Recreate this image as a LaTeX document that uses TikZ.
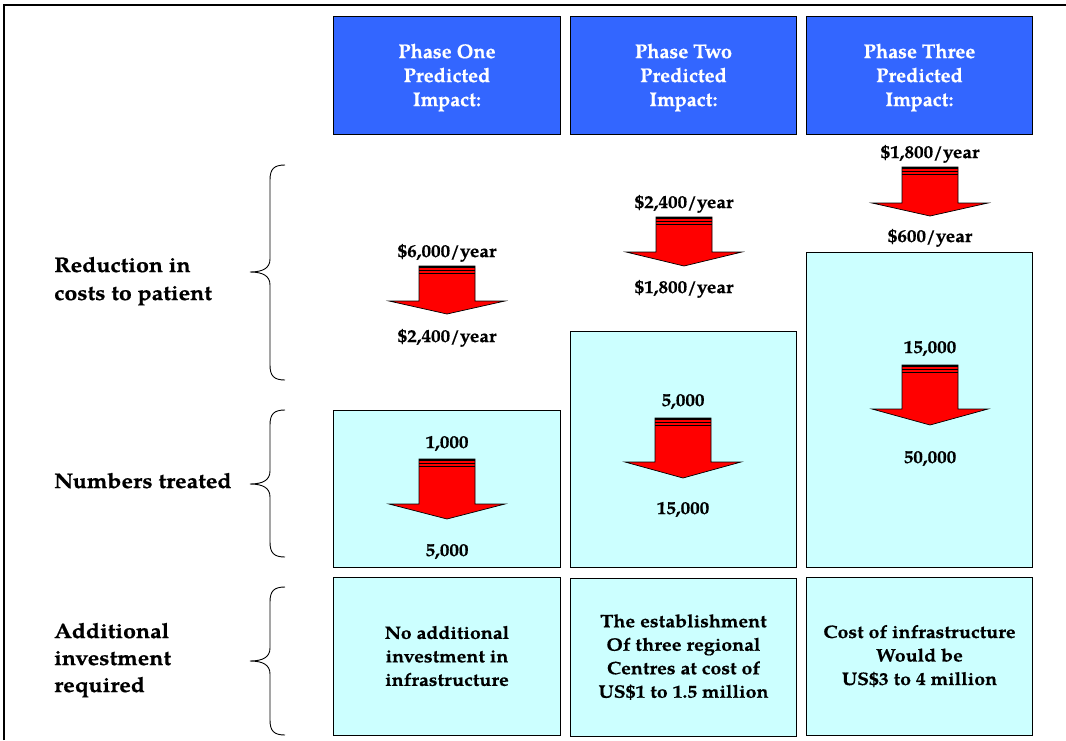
\documentclass[tikz,border=0pt]{standalone}
\usepackage{fontspec}
\setmainfont{TeX Gyre Pagella}
\newfontfamily\widelab{TeX Gyre Pagella}[FakeStretch=1.1,FakeBold=0.6]
\newfontfamily\widebox{TeX Gyre Pagella}[FakeStretch=1.09,FakeBold=0.5]
\newfontfamily\wideval{TeX Gyre Pagella}[FakeStretch=1.06,FakeBold=0.5]
\newfontfamily\widehdr{TeX Gyre Pagella}[FakeStretch=1.0,FakeBold=0.4]
\definecolor{phblue}{HTML}{3366FF}
\definecolor{phcyan}{HTML}{CCFFFF}
\definecolor{arrred}{HTML}{FF0000}
\newcommand\hdrfont{\widehdr\fontsize{20}{24}\selectfont\bfseries}
\newcommand\valfont{\wideval\fontsize{18}{23.5}\selectfont\bfseries}
\newcommand\boxfont{\widebox\fontsize{18}{23.5}\selectfont\bfseries}
\newcommand\labfont{\widelab\fontsize{21}{28}\selectfont\bfseries}
% red striped block arrow: centre x, top y, shaft length, head length
\newcommand\redarrow[4]{%
  \filldraw[fill=arrred,draw=black,line width=0.7pt,line join=miter]
    ({#1-28},#2) -- ({#1+28},#2) -- ({#1+28},{#2+#3}) -- ({#1+58},{#2+#3})
    -- (#1,{#2+#3+#4}) -- ({#1-58},{#2+#3}) -- ({#1-28},{#2+#3}) -- cycle;
  \draw[line width=1.6pt] ({#1-28},{#2+0.8}) -- ({#1+28},{#2+0.8});
  \draw[line width=0.9pt] ({#1-28},{#2+4.5}) -- ({#1+28},{#2+4.5});
  \draw[line width=0.9pt] ({#1-28},{#2+7.5}) -- ({#1+28},{#2+7.5});
}
% left curly brace: top y, tip y, bottom y
\newcommand\mybrace[3]{%
  \draw[line width=0.9pt]
    (285,#1) .. controls (274,#1) and (270,{#1+4}) .. (270,{#1+15})
    -- (270,{#2-13}) .. controls (270,{#2-4}) and (263,#2) .. (250,#2)
    .. controls (263,#2) and (270,{#2+4}) .. (270,{#2+13})
    -- (270,{#3-15}) .. controls (270,{#3-4}) and (274,#3) .. (285,#3);
}
\begin{document}
\begin{tikzpicture}[x=1pt,y=-1pt,
  hdr/.style={draw=black,line width=0.8pt,fill=phblue,
    minimum width=226.5pt,minimum height=118pt,inner sep=0pt},
  hdrtxt/.style={text=white,font=\hdrfont,align=center,inner sep=0pt},
  cbox/.style={draw=black,line width=0.8pt,fill=phcyan,inner sep=0pt,
    minimum width=226.5pt},
  val/.style={font=\valfont,anchor=base,inner sep=0pt},
  lab/.style={font=\labfont,anchor=base west,inner sep=0pt}]
\useasboundingbox (0,0) rectangle (1066,740);
\draw[line width=2pt] (4,740) -- (4,5) -- (1066,5);

% headers
\node[hdr] (h1) at (447,75) {};
\node[hdr] (h2) at (683.5,75) {};
\node[hdr] (h3) at (919.5,75) {};
\node[hdrtxt] (h1t) at (447,77.5) {Phase One\\Predicted\\Impact:};
\node[hdrtxt] (h2t) at (683.5,77.5) {Phase Two\\Predicted\\Impact:};
\node[hdrtxt] (h3t) at (919.5,77.5) {Phase Three\\Predicted\\Impact:};

% cyan boxes (numbers treated)
\node[cbox,minimum height=157pt] (n1) at (447,488.5) {};
\node[cbox,minimum height=236pt] (n2) at (683.5,449) {};
\node[cbox,minimum height=315pt] (n3) at (919.5,409.5) {};

% cyan boxes (investment)
\node[cbox,minimum height=158pt,font=\boxfont,align=center] (b1) at (447,656)
  {No additional\\investment in\\infrastructure};
\node[cbox,minimum height=158pt,font=\boxfont,align=center] (b2) at (683.5,657)
  {The establishment\\Of three regional\\Centres at cost of\\US\$1 to 1.5 million};
\node[cbox,minimum height=158pt,font=\boxfont,align=center] (b3) at (919.5,656)
  {Cost of infrastructure\\Would be\\US\$3 to 4 million};

% left labels
\node[lab] (l1a) at (54,272) {Reduction in};
\node[lab] (l1b) at (54,300) {costs to patient};
\node[lab] (l2) at (54,488) {Numbers treated};
\node[lab] (l3a) at (54,638) {Additional};
\node[lab] (l3b) at (54,665) {investment};
\node[lab] (l3c) at (54,692) {required};

% braces
\mybrace{165}{272}{380}
\mybrace{410}{484}{557}
\mybrace{587}{661}{735}

% cost arrows and values
\node[val] (c1a) at (447,257) {\$6,000/year};
\redarrow{447}{266}{35}{13}
\node[val] (c1b) at (447,342) {\$2,400/year};

\node[val] (c2a) at (684,208) {\$2,400/year};
\redarrow{684}{217}{35}{14}
\node[val] (c2b) at (684,293) {\$1,800/year};

\node[val] (c3a) at (930,158) {\$1,800/year};
\redarrow{930}{167}{36}{13}
\node[val] (c3b) at (930,242) {\$600/year};

% number arrows and values
\node[val] (m1a) at (447,448) {1,000};
\redarrow{447}{459}{45}{15}
\node[val] (m1b) at (447,556) {5,000};

\node[val] (m2a) at (683,406) {5,000};
\redarrow{683}{418}{44}{16}
\node[val] (m2b) at (683,514) {15,000};

\node[val] (m3a) at (930,353) {15,000};
\redarrow{930}{365}{44}{16}
\node[val] (m3b) at (930,463) {50,000};
\end{tikzpicture}
\end{document}
